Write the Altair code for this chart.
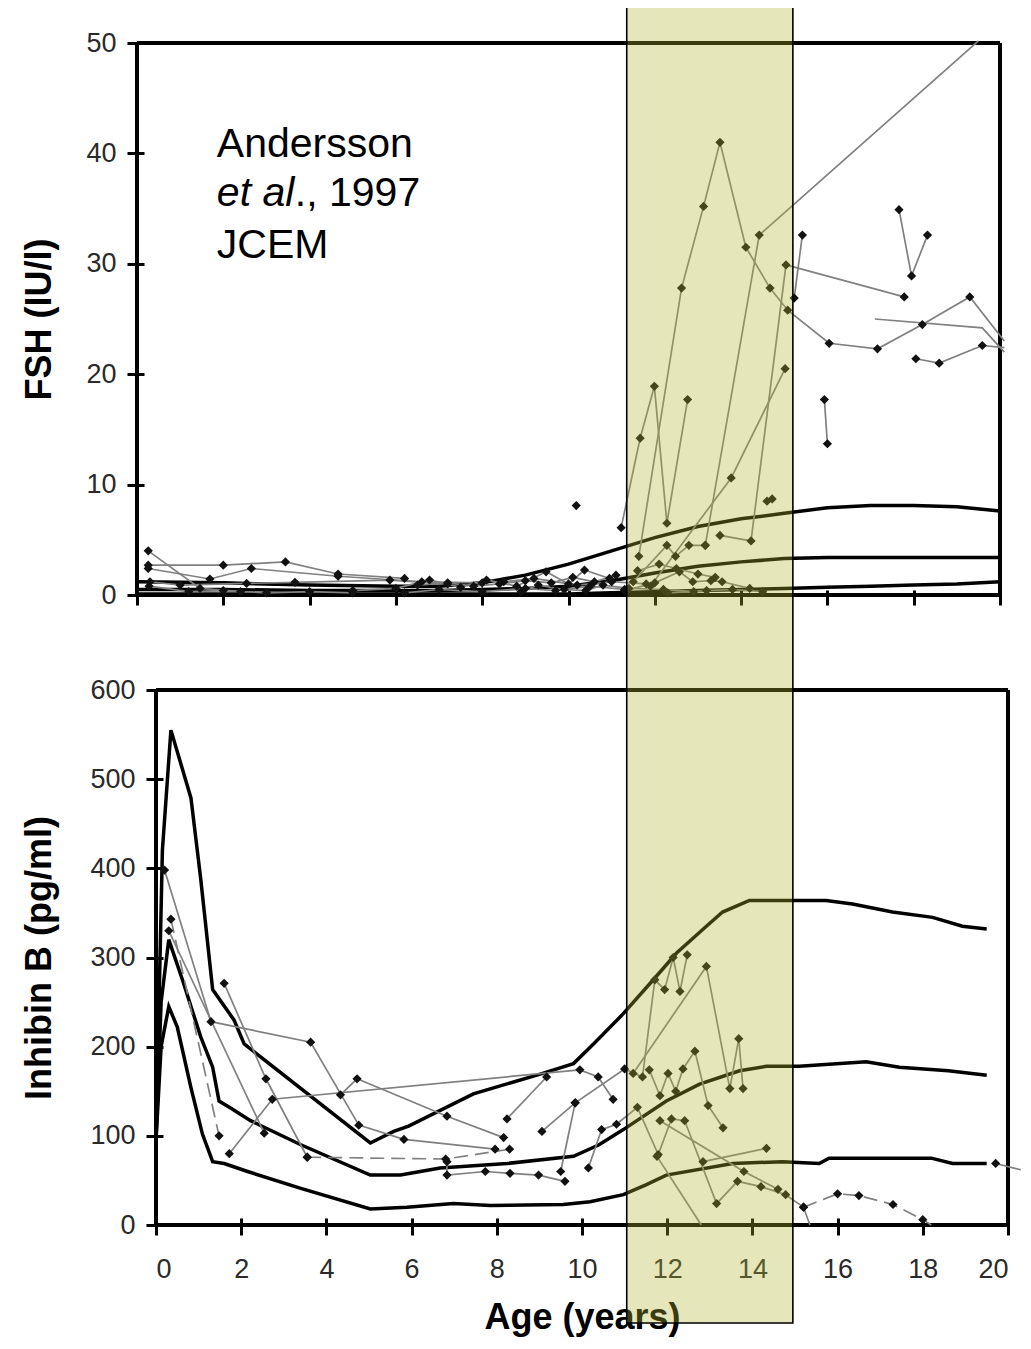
import altair as alt
import pandas as pd

# ---------------- axis tick values ----------------
AGE_TICKS = [0, 2, 4, 6, 8, 10, 12, 14, 16, 18, 20]
FSH_TICKS = [0, 10, 20, 30, 40, 50]
INH_TICKS = [0, 100, 200, 300, 400, 500, 600]

# ---------------- FSH reference curves (thick black) ----------------
FSH_PCT_AGE = [0, 2, 4, 6, 7, 8, 9, 10, 11, 12, 13, 14, 15, 16, 17, 18, 19, 20]
FSH_UPPER = [1.2, 1.1, 0.9, 0.8, 0.8, 1.1, 1.8, 2.8, 4.0, 5.2, 6.2, 6.9, 7.4, 7.9, 8.1, 8.1, 8.0, 7.6]
FSH_MIDDLE = [0.5, 0.5, 0.4, 0.4, 0.4, 0.5, 0.6, 0.8, 1.3, 2.0, 2.6, 3.0, 3.3, 3.4, 3.4, 3.4, 3.4, 3.4]
FSH_LOWER = [0.1, 0.1, 0.1, 0.1, 0.1, 0.1, 0.1, 0.1, 0.2, 0.3, 0.4, 0.5, 0.6, 0.7, 0.8, 0.9, 1.0, 1.2]

# ---------------- Inhibin B reference curves (thick black) ----------------
INH_UPPER_AGE = [0, 0.15, 0.35, 0.82, 1.05, 1.33, 1.83, 2.07, 5.03, 5.58, 5.93, 7.45, 9.0, 9.8, 10.27,
                 10.97, 11.71, 12.22, 12.92, 13.3, 13.93, 14.95, 15.73, 16.35, 17.29, 18.23, 18.93, 19.5]
INH_UPPER = [95, 420, 555, 479, 388, 264, 230, 203, 92, 105, 111, 147, 169, 181, 203,
             237, 277, 305, 335, 351, 364, 364, 364, 360, 351, 345, 335, 332]
INH_MIDDLE_AGE = [0, 0.12, 0.3, 0.62, 1.05, 1.33, 1.48, 1.76, 2.22, 3.4, 5.03, 5.74, 6.67, 8.24, 9.8,
                  10.4, 10.97, 11.98, 12.76, 13.7, 14.33, 15.1, 16.67, 17.45, 18.6, 19.5]
INH_MIDDLE = [95, 250, 320, 275, 211, 177, 139, 131, 117, 90, 56, 56, 64, 69, 77,
              90, 107, 139, 158, 173, 178, 178, 183, 177, 173, 168]
INH_LOWER_AGE = [0, 0.12, 0.3, 0.5, 0.82, 1.09, 1.33, 1.6, 2.15, 3.4, 5.03, 5.89, 6.98, 7.85, 9.56,
                 10.19, 10.97, 11.5, 11.98, 13.54, 14.7, 15.57, 15.8, 18.2, 18.7, 19.5]
INH_LOWER = [95, 200, 245, 222, 154, 102, 71, 69, 60, 41, 18, 20, 24, 22, 23,
             26, 34, 45, 56, 69, 71, 69, 75, 75, 69, 69]

# ---------------- FSH individual boys (age, FSH) ----------------
FSH_A = [(11.22, 6.1), (11.66, 14.2), (11.99, 18.9), (12.28, 6.5), (12.76, 17.7)]
FSH_B = [(11.63, 3.5), (12.62, 27.8), (13.13, 35.2), (13.51, 41.0), (14.11, 31.5), (14.67, 27.8),
         (15.08, 25.8), (16.04, 22.8), (17.16, 22.3), (18.2, 24.5), (19.3, 27.0), (20.1, 23.0)]
FSH_C = [(13.17, 4.5), (14.42, 32.6), (19.5, 50.2)]
FSH_D = [(13.51, 5.4), (14.23, 4.9), (15.04, 29.9), (17.78, 27.0)]
FSH_E = [(15.42, 32.6), (15.23, 26.9)]
FSH_F = [(17.66, 34.9), (17.95, 28.9), (18.32, 32.6)]
FSH_G = [(17.1, 25.0), (19.59, 24.2), (20.1, 22.0)]
FSH_H = [(18.05, 21.4), (18.59, 21.0), (19.59, 22.6), (20.1, 22.4)]
FSH_I = [(15.93, 17.7), (16.0, 13.7)]
FSH_J = [(11.9, 0.8), (13.77, 10.6), (15.02, 20.5)]
FSH_K = [(14.6, 8.5), (14.72, 8.7)]
FSH_L = [(10.18, 8.1)]
FSH_M = [(11.5, 1.2), (12.28, 4.5), (12.48, 3.5), (12.79, 4.5), (13.17, 4.5)]
FSH_N = [(11.3, 0.4), (12.0, 1.1), (12.57, 2.1), (12.88, 1.2), (13.3, 1.3), (13.56, 1.2), (14.2, 0.6)]
FSH_O = [(0.26, 4.0), (1.46, 0.6), (2.4, 0.3)]
FSH_P = [(0.26, 2.4), (1.69, 1.45), (2.65, 2.4), (4.66, 1.7), (6.6, 1.2), (8.0, 1.1)]
FSH_Q = [(0.26, 2.7), (2.0, 2.7), (3.44, 3.0), (4.66, 1.9), (6.2, 1.5)]
FSH_R = [(0.3, 1.2), (1.0, 0.9), (2.54, 1.05), (3.66, 1.15), (5.86, 1.35), (7.2, 1.0)]
FSH_S = [(0.28, 0.8), (1.2, 0.3), (2.0, 0.4), (3.0, 0.2), (4.0, 0.3), (5.0, 0.2)]
FSH_T = [(5.0, 0.4), (6.0, 0.6), (6.78, 1.36), (7.5, 0.7), (8.1, 1.36), (8.8, 0.8), (9.48, 2.1),
         (10.0, 1.0), (10.37, 2.26), (10.95, 1.5)]
FSH_U = [(6.2, 0.2), (7.0, 0.5), (8.0, 0.3), (9.0, 0.6), (9.7, 0.4), (10.5, 0.8), (11.3, 0.5)]
FSH_V = [(8.5, 1.2), (9.2, 1.5), (10.2, 0.9), (11.0, 1.2), (11.8, 1.0)]
FSH_W = [(6.5, 0.9), (7.2, 1.1), (7.8, 0.8), (8.4, 1.0), (9.0, 1.3), (9.6, 1.1), (10.1, 1.6),
         (10.6, 1.2), (11.1, 1.8)]
FSH_X = [(8.9, 0.3), (9.3, 0.9), (9.9, 0.5), (10.4, 0.4), (10.8, 0.9), (11.4, 0.6), (12.2, 0.5),
         (12.9, 0.3)]
FSH_Y = [(11.6, 2.2), (12.1, 2.8), (12.5, 2.4), (13.0, 1.9), (13.4, 1.6)]
FSH_Z = [(12.3, 0.2), (13.2, 0.4), (13.8, 0.5), (14.5, 0.3)]

# ---------------- Inhibin B individual boys (age, pg/ml) ----------------
INH_A = [(0.2, 398), (1.29, 228), (3.63, 205), (4.76, 112), (5.82, 96), (7.96, 85)]
INH_B = [(0.35, 343), (1.48, 100)]
INH_C = [(1.6, 271), (2.58, 164), (3.55, 76)]
INH_D = [(3.55, 76), (6.8, 74), (8.3, 85)]
INH_E = [(1.72, 80), (2.73, 141), (9.95, 174), (10.38, 166), (10.73, 141)]
INH_F = [(0.3, 330), (2.54, 103)]
INH_G = [(4.33, 146), (4.72, 164), (6.83, 122), (8.16, 98)]
INH_H = [(8.24, 119), (9.17, 166)]
INH_I = [(9.06, 105), (9.84, 137), (11.0, 175), (11.42, 166), (11.71, 275), (11.94, 264),
         (12.14, 300), (12.3, 262), (12.47, 303)]
INH_J = [(6.83, 71), (6.83, 56), (7.73, 60), (8.31, 58), (8.98, 56), (9.6, 49)]
INH_K = [(10.15, 64), (10.46, 107), (10.81, 113), (11.3, 132), (11.79, 79), (12.1, 119), (12.41, 117),
         (13.16, 24), (13.65, 49), (14.2, 43), (14.78, 34), (15.2, 20), (15.35, 0)]
INH_L = [(11.2, 170), (12.92, 290), (13.47, 153), (13.68, 209), (13.78, 153)]
INH_M = [(11.58, 174), (11.83, 145), (12.02, 170), (12.2, 150), (12.37, 175), (12.65, 195),
         (12.96, 134), (13.31, 109)]
INH_N = [(12.84, 71), (14.33, 86)]
INH_O = [(11.76, 77), (12.8, 0)]
INH_P = [(11.83, 117), (13.8, 60), (14.6, 40)]
INH_Q = [(15.2, 20), (16.0, 35), (16.5, 33), (17.3, 23), (18.0, 6), (18.2, 0)]
INH_R = [(19.71, 69), (20.3, 62)]
INH_S = [(9.84, 137), (9.5, 60)]

# puberty window highlighted on the figure (years)
PUBERTY_START = [11.05]
PUBERTY_END = [14.95]

# annotation
NOTE_LINES = ["Andersson", "JCEM"]
NOTE_AGE = [1.85, 1.85]
NOTE_FSH = [39.7, 30.5]
NOTE_ITALIC = ["et al"]
NOTE_REST = ["., 1997"]
NOTE_MID_FSH = [35.2]

# ---------------- layout (pixels) ----------------
W, H = 871, 1182
TOP_H = 552
BOT_TOP = 647
X_SHIFT = 19
TOP_W = 863

FONT = "Liberation Sans"


def to_frame(named):
    rows = []
    for sid, pts in named.items():
        for i, (a, v) in enumerate(pts):
            rows.append({"sid": sid, "idx": i, "age": a, "val": v})
    return pd.DataFrame(rows)


fsh_solid = to_frame({"A": FSH_A, "B": FSH_B, "C": FSH_C, "D": FSH_D, "E": FSH_E, "F": FSH_F,
                      "G": FSH_G, "H": FSH_H, "I": FSH_I, "J": FSH_J, "K": FSH_K, "L": FSH_L,
                      "M": FSH_M, "N": FSH_N, "O": FSH_O, "P": FSH_P, "Q": FSH_Q, "R": FSH_R,
                      "S": FSH_S, "T": FSH_T, "U": FSH_U, "V": FSH_V, "W": FSH_W, "X": FSH_X,
                      "Y": FSH_Y, "Z": FSH_Z})
fsh_dots = fsh_solid[(fsh_solid.sid != "G") & (fsh_solid.age <= 20) & (fsh_solid.val <= 50)]

inh_solid = to_frame({"A": INH_A, "C": INH_C, "E": INH_E, "F": INH_F, "G": INH_G, "H": INH_H,
                      "I": INH_I, "J": INH_J, "K": INH_K, "L": INH_L, "M": INH_M, "N": INH_N,
                      "O": INH_O, "P": INH_P, "R": INH_R, "S": INH_S})
inh_dashed = to_frame({"B": INH_B, "D": INH_D, "Q": INH_Q})
inh_all = pd.concat([inh_solid, inh_dashed])
inh_dots = inh_all[(inh_all.age <= 20) & (inh_all.val > 0)]

fsh_pct = pd.concat([
    pd.DataFrame({"sid": name, "idx": range(len(FSH_PCT_AGE)), "age": FSH_PCT_AGE, "val": vals})
    for name, vals in [("upper", FSH_UPPER), ("middle", FSH_MIDDLE), ("lower", FSH_LOWER)]
])
inh_pct = pd.concat([
    pd.DataFrame({"sid": name, "idx": range(len(ages)), "age": ages, "val": vals})
    for name, ages, vals in [("upper", INH_UPPER_AGE, INH_UPPER),
                             ("middle", INH_MIDDLE_AGE, INH_MIDDLE),
                             ("lower", INH_LOWER_AGE, INH_LOWER)]
])

top_frame = pd.DataFrame({"x": [0, 20, 0, 0], "x2": [20, 20, 0, 20],
                          "y": [FSH_TICKS[-1], 0, 0, 0], "y2": [FSH_TICKS[-1], FSH_TICKS[-1], FSH_TICKS[-1], 0]})
bot_frame = pd.DataFrame({"x": [0, 20, 0, 0], "x2": [20, 20, 0, 20],
                          "y": [INH_TICKS[-1], 0, 0, 0], "y2": [INH_TICKS[-1], INH_TICKS[-1], INH_TICKS[-1], 0]})

note_df = pd.DataFrame({"text": NOTE_LINES, "age": NOTE_AGE, "val": NOTE_FSH})
note_it = pd.DataFrame({"text": NOTE_ITALIC, "age": NOTE_AGE[:1], "val": NOTE_MID_FSH})
note_rest = pd.DataFrame({"text": NOTE_REST, "age": NOTE_AGE[:1], "val": NOTE_MID_FSH})
band_df = pd.DataFrame({"start": PUBERTY_START, "end": PUBERTY_END})

# ---------------- scales & axes ----------------
sx_top = alt.Scale(domain=[0, 20], range=[0, TOP_W], nice=False, zero=False)
sy_top = alt.Scale(domain=[0, 50], range=[TOP_H, 0], nice=False, zero=False)
sx_bot = alt.Scale(domain=[0, 20], range=[X_SHIFT, W], nice=False, zero=False)
sy_bot = alt.Scale(domain=[0, 600], range=[H, BOT_TOP], nice=False, zero=False)

ax_top_x = alt.Axis(values=AGE_TICKS, orient="bottom", offset=-(H - TOP_H) - 5, tickSize=15,
                    labels=False, title=None, domain=False, grid=False)
ax_top_y = alt.Axis(values=FSH_TICKS, orient="left", offset=-7, tickSize=17, labelPadding=11,
                    title="FSH (IU/l)", titlePadding=27, domain=False, grid=False)
ax_bot_x = alt.Axis(values=AGE_TICKS, orient="bottom", offset=-7, tickSize=17, labelPadding=21,
                    title="Age (years)", titlePadding=18, domain=False, grid=False)
ax_bot_y = alt.Axis(values=INH_TICKS, orient="left", offset=-(X_SHIFT + 7), tickSize=17, labelPadding=11,
                    title="Inhibin B (pg/ml)", titlePadding=31, domain=False, grid=False)


def xt(f="age"):
    return alt.X(f"{f}:Q", scale=sx_top, axis=ax_top_x)


def yt(f="val"):
    return alt.Y(f"{f}:Q", scale=sy_top, axis=ax_top_y)


def xb(f="age"):
    return alt.X(f"{f}:Q", scale=sx_bot, axis=ax_bot_x)


def yb(f="val"):
    return alt.Y(f"{f}:Q", scale=sy_bot, axis=ax_bot_y)


GREY = "#808080"
DOT_SIZE = 85

# ---------------- top panel ----------------
t_frame = alt.Chart(top_frame).mark_rule(color="black", strokeWidth=4).encode(
    x=xt("x"), x2="x2:Q", y=yt("y"), y2="y2:Q")
t_pct = alt.Chart(fsh_pct).mark_line(color="black", strokeWidth=3.5).encode(
    x=xt(), y=yt(), detail="sid:N", order="idx:Q")
t_lines = alt.Chart(fsh_solid).mark_line(color=GREY, strokeWidth=1.7).encode(
    x=xt(), y=yt(), detail="sid:N", order="idx:Q")
t_dots = alt.Chart(fsh_dots).mark_point(shape="diamond", filled=True, size=DOT_SIZE, color="#111",
                                        opacity=1).encode(x=xt(), y=yt())
t_note = alt.Chart(note_df).mark_text(align="left", baseline="alphabetic", fontSize=41, font=FONT,
                                      color="black").encode(x=xt(), y=yt(), text="text:N")
t_note_it = alt.Chart(note_it).mark_text(align="left", baseline="alphabetic", fontSize=41, font=FONT,
                                         fontStyle="italic", color="black").encode(x=xt(), y=yt(), text="text:N")
t_note_rest = alt.Chart(note_rest).mark_text(align="left", baseline="alphabetic", fontSize=41, font=FONT,
                                             dx=78, color="black").encode(x=xt(), y=yt(), text="text:N")
top = alt.layer(t_frame, t_pct, t_lines, t_dots, t_note, t_note_it, t_note_rest)

# ---------------- bottom panel ----------------
b_frame = alt.Chart(bot_frame).mark_rule(color="black", strokeWidth=4).encode(
    x=xb("x"), x2="x2:Q", y=yb("y"), y2="y2:Q")
b_pct = alt.Chart(inh_pct).mark_line(color="black", strokeWidth=3.5).encode(
    x=xb(), y=yb(), detail="sid:N", order="idx:Q")
b_lines = alt.Chart(inh_solid).mark_line(color=GREY, strokeWidth=1.7).encode(
    x=xb(), y=yb(), detail="sid:N", order="idx:Q")
b_dashed = alt.Chart(inh_dashed).mark_line(color=GREY, strokeWidth=1.7, strokeDash=[14, 7]).encode(
    x=xb(), y=yb(), detail="sid:N", order="idx:Q")
b_dots = alt.Chart(inh_dots).mark_point(shape="diamond", filled=True, size=DOT_SIZE, color="#111",
                                        opacity=1).encode(x=xb(), y=yb())
b_band = alt.Chart(band_df).mark_rect(fill="#b2b231", fillOpacity=0.33, stroke="black", strokeWidth=1.6,
                                      strokeOpacity=1).encode(
    x=xb("start"), x2="end:Q", y=alt.value(-36), y2=alt.value(1280))
bottom = alt.layer(b_frame, b_pct, b_lines, b_dashed, b_dots, b_band)

chart = alt.layer(top, bottom).resolve_scale(x="independent", y="independent").properties(
    width=W, height=H,
    autosize=alt.AutoSizeParams(type="none"),
    padding={"left": 129, "top": 35, "right": 15, "bottom": 120},
).configure_view(strokeWidth=0).configure_axis(
    labelFont=FONT, titleFont=FONT, labelFontSize=27, titleFontSize=36, titleFontWeight="bold",
    labelColor="#2a2a2a", titleColor="black", tickColor="black", tickWidth=3,
)

chart.save("out.html", embed_options={"renderer": "svg", "actions": False})
